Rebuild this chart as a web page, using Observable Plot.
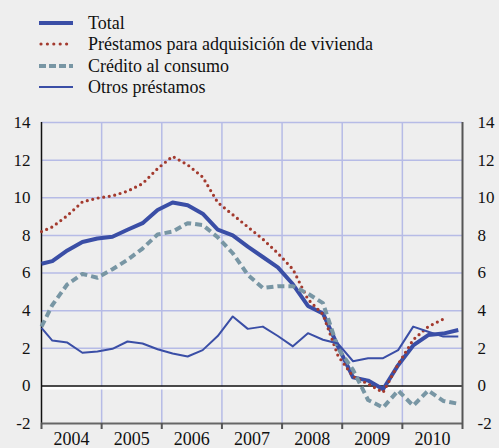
<!DOCTYPE html>
<html>
<head>
<meta charset="utf-8">
<script src="https://cdn.jsdelivr.net/npm/d3@7"></script>
<script src="https://cdn.jsdelivr.net/npm/@observablehq/plot@0.6"></script>
<style>
  html, body { margin: 0; padding: 0; background: #eeeeee; }
  #wrap { position: relative; width: 499px; height: 448px; overflow: hidden; background: #eeeeee; font-family: "Liberation Serif"; }
  #legend { position: absolute; left: 0; top: 0; width: 499px; }
  .row { position: absolute; left: 39px; height: 20px; display: flex; align-items: center; color: #111; font-family: "Liberation Serif"; font-size: 18px; }
  .row svg { width: 34px; height: 8px; margin-right: 15px; }
  #chart { position: absolute; left: 0; top: 0; }
  #chart text { font-family: "Liberation Serif"; }
</style>
</head>
<body>
<div id="wrap">
  <div id="chart"></div>
  <div id="legend"></div>
</div>
<script>
// Series names
const seriesNames = ["Total", "Préstamos para adquisición de vivienda", "Crédito al consumo", "Otros préstamos"];
// Year labels on the x axis
const years = [2004, 2005, 2006, 2007, 2008, 2009, 2010];
// Y tick values
const yTicks = [-2, 0, 2, 4, 6, 8, 10, 12, 14];

// Values (first value at the start of 2004, then quarterly)
const total = [6.49, 6.63, 7.2, 7.65, 7.83, 7.93, 8.3, 8.65, 9.35, 9.75, 9.6, 9.15, 8.3, 8.0, 7.4, 6.85, 6.3, 5.4, 4.25, 3.85, 2.1, 0.45, 0.28, -0.18, 1.1, 2.15, 2.7, 2.78, 2.97];
const vivienda = [8.2, 8.45, 9.05, 9.78, 9.98, 10.1, 10.35, 10.75, 11.55, 12.2, 11.75, 11.1, 9.75, 9.1, 8.45, 7.8, 7.05, 6.2, 4.6, 3.8, 1.6, 0.5, 0.1, -0.35, 1.15, 2.45, 3.15, 3.55];
const consumo = [3.15, 4.3, 5.4, 5.95, 5.75, 6.2, 6.7, 7.3, 8.05, 8.2, 8.65, 8.55, 7.9, 7.05, 5.9, 5.2, 5.3, 5.3, 4.9, 4.4, 2.0, 0.85, -0.75, -1.15, -0.25, -1.05, -0.25, -0.8, -0.95];
const otros = [3.08, 2.41, 2.3, 1.76, 1.83, 1.97, 2.36, 2.25, 1.95, 1.72, 1.56, 1.9, 2.65, 3.69, 3.03, 3.15, 2.65, 2.1, 2.8, 2.45, 2.25, 1.31, 1.47, 1.47, 1.9, 3.15, 2.88, 2.62, 2.62];

// time positions: start of 2004, then one point per quarter
const timeAt = i => i === 0 ? 2004.0 : 2004.18 + 0.25 * (i - 1);
const toRows = arr => arr.map((v, i) => ({t: timeAt(i), v}));

const styles = [
  {color: "#3a4ea6", width: 4, dash: null, cap: "butt"},
  {color: "#a33a2e", width: 3.2, dash: "0 5.6", cap: "round"},
  {color: "#7896a4", width: 4, dash: "7 4", cap: "butt"},
  {color: "#3a4ea6", width: 2, dash: null, cap: "butt"}
];
const seriesData = [total, vivienda, consumo, otros];

const yearBounds = [...years, years[years.length - 1] + 1];
const yearMids = years.map(y => y + 0.5);
const grid = "#b6bbe6";
const serif = '"Liberation Serif"';

const lineMarks = seriesData.map((arr, i) => Plot.line(toRows(arr), {
  x: "t", y: "v",
  stroke: styles[i].color,
  strokeWidth: styles[i].width,
  strokeDasharray: styles[i].dash,
  strokeLinecap: styles[i].cap,
  strokeLinejoin: "round"
}));

const chart = Plot.plot({
  width: 499,
  height: 448,
  marginTop: 122,
  marginBottom: 25,
  marginLeft: 41,
  marginRight: 37,
  style: {background: "transparent", fontFamily: serif, fontSize: "17px", color: "#111"},
  x: {domain: [2004, 2011]},
  y: {domain: [-2, 14]},
  marks: [
    Plot.ruleY(yTicks.filter(v => v > 0), {stroke: grid, strokeWidth: 1.5}),
    Plot.ruleX(yearBounds.slice(1, -1), {stroke: grid, strokeWidth: 1.5}),
    Plot.ruleY([0], {stroke: "#ffffff", strokeWidth: 3, dy: 2}),
    Plot.ruleY([0], {stroke: "#111", strokeWidth: 1.5}),
    Plot.ruleX([2004], {stroke: "#111", strokeWidth: 1.5}),
    Plot.ruleX([2011], {stroke: "#555", strokeWidth: 2}),
    Plot.ruleY([-2], {stroke: "#666", strokeWidth: 2}),
    Plot.axisY(yTicks, {anchor: "left", tickSize: 0, tickPadding: 11, tickFormat: d => String(d), label: null, fontSize: 17}),
    Plot.axisY(yTicks, {anchor: "right", tickSize: 0, tickPadding: 15, tickFormat: d => String(d), label: null, fontSize: 17}),
    Plot.axisX(yearBounds, {anchor: "bottom", tickSize: 6, stroke: "#555", strokeWidth: 2, tickFormat: () => "", label: null}),
    Plot.axisX(yearMids, {anchor: "bottom", tickSize: 0, tickPadding: 9, tickFormat: d => String(Math.floor(d)), label: null, fontSize: 18}),
    ...lineMarks
  ]
});
chart.querySelectorAll("text").forEach(el => el.setAttribute("font-family", "Liberation Serif"));
document.getElementById("chart").appendChild(chart);

const legend = document.getElementById("legend");
const rowTops = [13, 34, 56, 77];
seriesNames.forEach((name, i) => {
  const s = styles[i];
  const row = document.createElement("div");
  row.className = "row";
  row.style.top = rowTops[i] + "px";
  const dash = s.dash ? (i === 1 ? "0 6.4" : "7 3") : "";
  row.innerHTML = `<svg viewBox="0 0 34 8"><line x1="${i === 1 ? 2 : 0}" y1="4" x2="34" y2="4" stroke="${s.color}" stroke-width="${s.width}" stroke-linecap="${s.cap}" ${dash ? `stroke-dasharray="${dash}"` : ""}/></svg><span>${name}</span>`;
  legend.appendChild(row);
});
</script>
</body>
</html>
